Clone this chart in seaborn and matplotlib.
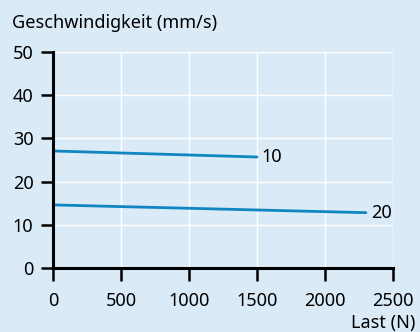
import matplotlib
matplotlib.use("Agg")
import matplotlib.pyplot as plt
import seaborn as sns
import pandas as pd

# Daten
last_10 = [0, 1500]
geschw_10 = [27.1, 25.7]
last_20 = [0, 2300]
geschw_20 = [14.6, 12.8]
kurven = ["10", "20"]
x_ticks = [0, 500, 1000, 1500, 2000, 2500]
y_ticks = [0, 10, 20, 30, 40, 50]

df = pd.concat([
    pd.DataFrame({"Last": last_10, "v": geschw_10, "Kurve": kurven[0]}),
    pd.DataFrame({"Last": last_20, "v": geschw_20, "Kurve": kurven[1]}),
])

bg = "#dbeaf7"
line_col = "#0f86c2"
fs = 13

sns.set_style("white")
plt.rcParams["font.family"] = ["Noto Sans", "DejaVu Sans"]
plt.rcParams["text.color"] = "black"

fig = plt.figure(figsize=(4.2, 3.32), dpi=100, facecolor=bg)
ax = fig.add_axes([0.126, 0.193, 0.81, 0.65])
ax.set_facecolor(bg)

sns.lineplot(data=df, x="Last", y="v", units="Kurve", estimator=None,
             color=line_col, linewidth=2, ax=ax, legend=False)

# Kurvenbeschriftung am Linienende
ax.text(last_10[-1] + 35, geschw_10[-1], kurven[0], fontsize=fs, va="center", ha="left")
ax.text(last_20[-1] + 35, geschw_20[-1], kurven[1], fontsize=fs, va="center", ha="left")

ax.set_xlim(0, 2500)
ax.set_ylim(0, 50)
ax.set_xticks(x_ticks)
ax.set_yticks(y_ticks)
ax.grid(True, color="white", linewidth=1)
ax.set_axisbelow(True)

for s in ["top", "right"]:
    ax.spines[s].set_visible(False)
for s in ["left", "bottom"]:
    ax.spines[s].set_linewidth(2.2)
    ax.spines[s].set_color("black")
ax.tick_params(axis="both", bottom=True, left=True, length=9, width=1.8,
               labelsize=fs, labelcolor="black", color="black", direction="out")
ax.tick_params(axis="x", pad=8)
ax.tick_params(axis="y", pad=5)

ax.set_xlabel("")
ax.set_ylabel("")
fig.text(0.028, 0.93, "Geschwindigkeit (mm/s)", fontsize=fs, ha="left", va="center")
fig.text(0.99, 0.028, "Last (N)", fontsize=fs, ha="right", va="center")

fig.savefig("out.png", dpi=100, facecolor=bg)
